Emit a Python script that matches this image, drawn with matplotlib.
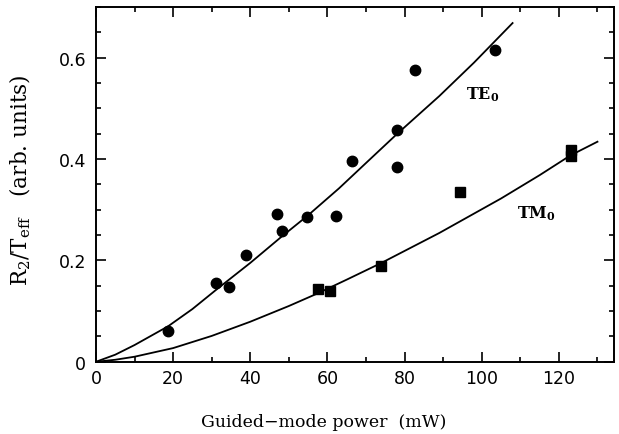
import numpy as np
import matplotlib
matplotlib.use("Agg")
import matplotlib.pyplot as plt
from matplotlib.ticker import MultipleLocator

plt.rcParams['mathtext.fontset'] = 'dejavuserif'

# TE0 measurements (circles)
te_power = [18.7, 31.1, 34.5, 38.9, 46.9, 48.2, 54.7, 62.2, 66.4, 78.0, 78.0, 82.7, 103.4]
te_ratio = [0.061, 0.156, 0.148, 0.211, 0.291, 0.258, 0.285, 0.287, 0.396, 0.457, 0.384, 0.575, 0.614]

# TM0 measurements (squares)
tm_power = [57.5, 60.7, 73.9, 94.3, 123.1, 123.1]
tm_ratio = [0.144, 0.140, 0.189, 0.335, 0.418, 0.405]

# fitted curves
te_fit_x = [0, 5, 10, 18.7, 25, 31, 40, 48, 55, 63, 70, 78, 89, 98, 108]
te_fit_y = [0, 0.014, 0.033, 0.070, 0.104, 0.141, 0.195, 0.246, 0.289, 0.342, 0.392, 0.449, 0.524, 0.590, 0.668]
tm_fit_x = [0, 5, 10, 20, 30, 40, 50, 57.5, 65, 74, 89, 105, 115, 123, 130]
tm_fit_y = [0, 0.004, 0.010, 0.027, 0.051, 0.079, 0.110, 0.135, 0.162, 0.195, 0.254, 0.322, 0.368, 0.407, 0.434]

fig = plt.figure(figsize=(6.19, 4.35), dpi=100)
ax = fig.add_axes([0.155, 0.166, 0.837, 0.816])

ax.plot(te_fit_x, te_fit_y, color='black', lw=1.3)
ax.plot(tm_fit_x, tm_fit_y, color='black', lw=1.3)
ax.plot(te_power, te_ratio, 'o', color='black', ms=7.5)
ax.plot(tm_power, tm_ratio, 's', color='black', ms=6.5)

ax.set_xlim(0, 134.3)
ax.set_ylim(0, 0.70)
ax.xaxis.set_major_locator(MultipleLocator(20))
ax.xaxis.set_minor_locator(MultipleLocator(10))
ax.yaxis.set_minor_locator(MultipleLocator(0.05))
ax.set_yticks([0, 0.2, 0.4, 0.6])
ax.set_yticklabels(['0', '0.2', '0.4', '0.6'])

ax.tick_params(which='both', direction='in', top=True, right=True, width=1.2,
               labelsize=12.5, labelfontfamily='DejaVu Sans')
ax.tick_params(which='major', length=7)
ax.tick_params(axis='x', which='major', pad=5)
ax.tick_params(axis='y', which='major', pad=7)
ax.tick_params(which='minor', length=3.5)
for s in ax.spines.values():
    s.set_linewidth(1.4)

ax.set_xlabel('Guided\u2212mode power  (mW)', family='DejaVu Serif', fontsize=12.5)
ax.xaxis.set_label_coords(0.44, -0.144)
ax.set_ylabel(r'R$_2$/T$_{\mathrm{eff}}$   (arb. units)', family='DejaVu Serif', fontsize=15.5)
ax.yaxis.set_label_coords(-0.122, 0.513)

ax.text(100.3, 0.528, r'$\mathbf{TE_0}$', ha='center', va='center', fontsize=11.5)
ax.text(114.3, 0.295, r'$\mathbf{TM_0}$', ha='center', va='center', fontsize=11.5)

fig.savefig('out.png', dpi=100)
